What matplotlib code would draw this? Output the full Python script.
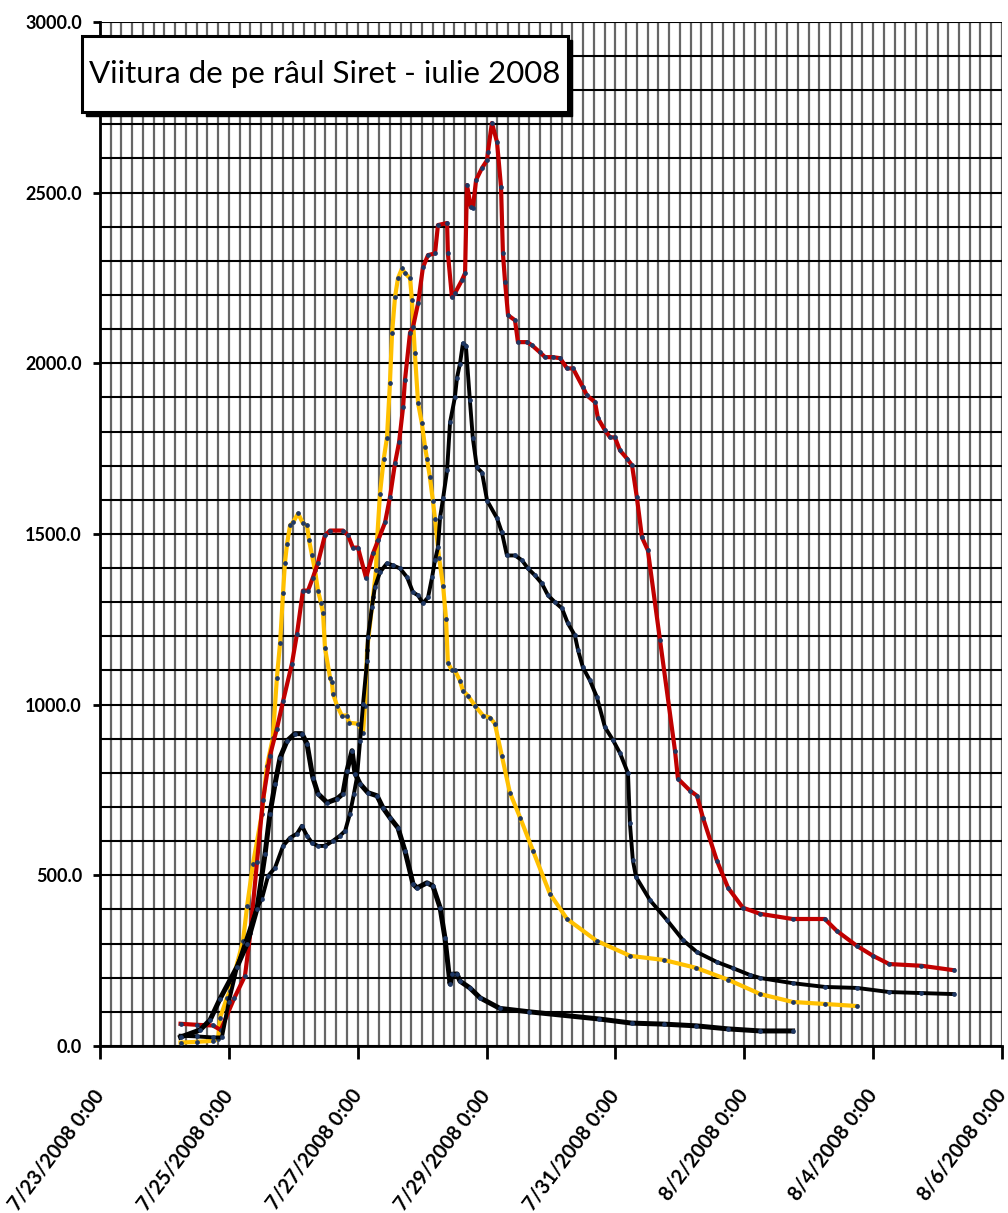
import numpy as np
import pandas as pd
import matplotlib
matplotlib.use("Agg")
import matplotlib.pyplot as plt
import matplotlib.dates as mdates
from matplotlib.patches import Rectangle
from matplotlib.ticker import FixedLocator, FuncFormatter

plt.rcParams['font.family'] = ['Lato', 'DejaVu Sans']

# hours since 7/23/2008 0:00 and discharge values (m3/s)
red_h = [30, 36, 42, 45, 50, 54, 56, 58.5, 60.7, 63.3, 65.9, 68.2, 71.5, 73.4, 75.6, 77.5,
         79.3, 81.2, 83.8, 85.7, 90.5, 92.4, 94.2, 96.1, 99.1, 101.7, 103.6, 106.2, 108,
         109.9, 111.4, 112.9, 113.6, 115.5, 116.6, 118.5, 120.3, 122.2, 124.8, 125.9, 129.3,
         129.6, 131.1, 132.2, 134.8, 136, 136.7, 138.2, 138.9, 140.1, 142.3, 144.2, 144.5,
         146, 147.9, 149.4, 150.1, 150.9, 152, 154.6, 155.7, 159.1, 160.9, 163.9, 165.8,
         168.7, 171.4, 174, 176.2, 179.9, 181.4, 184.4, 185.5, 188.1, 190, 191.8, 193.7,
         196.3, 198.2, 200, 201.9, 204.1, 208.6, 214.2, 215.3, 219.8, 222.4, 224.6, 229.8,
         234, 239.5, 246, 258, 270, 274.5, 282, 288, 294, 306, 318]
red_v = [65, 62, 60, 47, 140, 205, 330, 540, 720, 850, 930, 1010, 1120, 1208, 1334, 1334,
         1372, 1416, 1496, 1510, 1510, 1496, 1460, 1460, 1372, 1443, 1481, 1534, 1607,
         1707, 1768, 1871, 1950, 2090, 2106, 2176, 2281, 2317, 2322, 2405, 2411,
         2322, 2194, 2205, 2243, 2264, 2522, 2457, 2455, 2537, 2572, 2595, 2619,
         2704, 2648, 2516, 2322, 2238, 2141, 2126, 2062, 2062, 2053, 2032, 2018,
         2018, 2015, 1985, 1985, 1930, 1906, 1886, 1839, 1804, 1783, 1783, 1745,
         1721, 1701, 1607, 1490, 1452, 1190, 865, 783, 748, 733, 669, 543,
         463, 405, 387, 372, 372, 337, 293, 264, 240, 235, 222]

yellow_h = [30, 36, 42, 44, 44.7, 47.3, 48.4, 53.3, 54.8, 57, 60.3, 62.2, 64.4, 65.9, 67.1,
            68.2, 68.9, 69.7, 70.8, 71.9, 73.8, 75.6, 77.1, 77.9, 79, 80.1, 81.2, 82.3, 83.1,
            83.8, 85.7, 86.4, 86.8, 88.3, 90.1, 92, 92.8, 96.1, 98, 98.7, 99.5, 101.7, 102.8,
            103.2, 104.3, 105.7, 106.9, 108, 108.8, 109.9, 111, 112.5, 113.6, 115.5, 116.2,
            117.3, 118.5, 119.9, 121.1, 121.8, 122.9, 124, 124.8, 126.3, 127.8, 128.9, 129.6,
            131.1, 132.2, 134.1, 135.2, 137.1, 139.7, 142.7, 145.3, 147.1, 149.7, 152.7,
            156.5, 161.3, 167.6, 174, 185, 197.5, 210, 222, 234, 246, 258, 270, 282]
yellow_v = [10, 12, 15, 20, 82, 141, 161, 308, 410, 534, 680, 821, 903, 1079, 1182,
            1328, 1416, 1472, 1525, 1534, 1560, 1531, 1525, 1481, 1437, 1393, 1334, 1299, 1267,
            1167, 1079, 1065, 1032, 997, 968, 968, 947, 944, 918, 997, 1160, 1314, 1393,
            1480, 1618, 1720, 1782, 1941, 2088, 2194, 2249, 2278, 2264, 2249, 2185,
            2029, 1883, 1824, 1754, 1721, 1666, 1598, 1545, 1431, 1349, 1252, 1123,
            1100, 1100, 1070, 1041, 1026, 997, 968, 962, 944, 850, 742,
            669, 572, 446, 372, 308, 264, 252, 229, 194, 152, 129, 123, 117]

navy_h = [30, 36, 42, 45.4, 48, 51, 54, 58.5, 60.3, 62.6, 65.2, 68.2, 70.8, 73.4, 75.2, 77.1,
          79, 81.2, 83.8, 86.8, 89.4, 91.3, 93.1, 94.6, 95.7, 96.9, 98, 99.5, 99.8, 101.3,
          102.4, 104.3, 106.9, 109.1, 111.8, 114.4, 116.6, 118.5, 120.3, 122.2, 123.7, 124.8,
          125.9, 126.7, 127.8, 129.3, 130.4, 132.2, 133, 134.1, 135.2, 136.3, 137.8, 138.9,
          140.4, 142.3, 144.2, 147.9, 149.7, 151.6, 154.6, 157.2, 159.4, 162, 164.6, 166.9,
          169.5, 172.1, 174.3, 176.9, 178.1, 179.9, 182.5, 185.1, 188.1, 191.1, 193.7, 196.7,
          197.4, 198.5, 199.7, 204.9, 211.2, 217.2, 222.4, 229.8, 235.8, 242.1, 246, 258,
          270, 282, 294, 306, 318]
navy_v = [30, 28, 25, 25, 130, 230, 301, 405, 431, 498, 522, 586, 610, 622, 645, 616,
          595, 586, 586, 601, 616, 630, 680, 739, 786, 894, 1003, 1129, 1197, 1285,
          1344, 1388, 1414, 1408, 1399, 1373, 1329, 1320, 1297, 1314, 1373, 1423,
          1461, 1549, 1604, 1686, 1827, 1900, 1958, 1999, 2058, 2052, 1891, 1780,
          1695, 1680, 1598, 1546, 1505, 1437, 1437, 1423, 1399, 1379, 1355, 1320,
          1300, 1282, 1238, 1203, 1159, 1109, 1071, 1022, 934, 896, 858, 799,
          653, 544, 495, 427, 369, 310, 275, 246, 228, 208, 199, 184,
          173, 170, 158, 155, 152]

black_h = [30, 37.3, 41, 44.7, 51, 54.8, 58.5, 61.5, 63.3, 65.2, 67.1, 69.7, 72.6, 75.2, 77.1,
           79.3, 81.2, 84.6, 88.3, 90.5, 92, 93.9, 95, 96.9, 99.8, 103.2, 105.4, 108, 111,
           113.6, 116.6, 118.1, 121.8, 124, 126.7, 128.5, 130.4, 131.1, 133, 134.1, 137.8,
           141.6, 149, 160, 186, 198, 210, 222, 234, 246, 258]
black_v = [26, 47, 76, 138, 231, 299, 402, 563, 680, 768, 845, 894, 915, 915, 886,
           786, 739, 713, 724, 739, 806, 865, 798, 768, 742, 733, 698, 669, 639,
           572, 475, 463, 478, 469, 405, 317, 182, 210, 211, 190, 170,
           141, 110, 100, 79, 67, 64, 59, 50, 44, 44]

title = "Viitura de pe râul Siret - iulie 2008"
start = pd.Timestamp("2008-07-23")
end = pd.Timestamp("2008-08-06")


def to_dates(hours):
    return start + pd.to_timedelta(np.array(hours), unit="h")


fig = plt.figure(figsize=(10.08, 12.13), dpi=100)
ax = fig.add_axes([0.0992, 0.1377, 0.8948, 0.8442])

mk = dict(marker='o', markersize=2.4, markerfacecolor='#1f3864', markeredgecolor='#1f3864')
ax.plot(to_dates(yellow_h), yellow_v, color='#ffc000', lw=3.0, **mk, zorder=3)
ax.plot(to_dates(red_h), red_v, color='#c00000', lw=3.0, **mk, zorder=4)
ax.plot(to_dates(navy_h), navy_v, color='#000000', lw=2.8, **mk, zorder=5)
ax.plot(to_dates(black_h), black_v, color='#000000', lw=3.6, **mk, zorder=5)

ax.set_xlim(mdates.date2num(start), mdates.date2num(end))
ax.set_ylim(0, 3000)

# ticks and grid
major_x = mdates.date2num(pd.date_range(start, end, freq="2D"))
minor_x = mdates.date2num(pd.date_range(start, end, freq="4h"))
ax.xaxis.set_major_locator(FixedLocator(major_x))
ax.xaxis.set_minor_locator(FixedLocator(minor_x))
ax.xaxis.set_major_formatter(FuncFormatter(
    lambda v, p: "{}/{}/{} 0:00".format(mdates.num2date(v).month, mdates.num2date(v).day,
                                         mdates.num2date(v).year)))
ax.yaxis.set_major_locator(FixedLocator(np.arange(0, 3001, 500)))
ax.yaxis.set_minor_locator(FixedLocator(np.arange(0, 3001, 100)))
ax.yaxis.set_major_formatter(FuncFormatter(lambda v, p: "%.1f" % v))

ax.grid(which='both', axis='x', color='#666666', lw=1.6)
ax.grid(which='both', axis='y', color='#000000', lw=1.5)
ax.set_axisbelow(True)

ax.tick_params(axis='x', which='major', length=9, width=2, direction='out', pad=24)
ax.tick_params(axis='y', which='major', length=5, width=2, direction='out', pad=8)
ax.tick_params(which='minor', length=0)
for lab in ax.get_yticklabels():
    lab.set_fontweight('bold')
    lab.set_fontsize(13)
for lab in ax.get_xticklabels():
    lab.set_fontweight('bold')
    lab.set_fontsize(14.5)
    lab.set_rotation(53)
    lab.set_ha('right')
    lab.set_va('center')
    lab.set_rotation_mode('anchor')

for s in ['top', 'right']:
    ax.spines[s].set_visible(False)
for s in ['left', 'bottom']:
    ax.spines[s].set_linewidth(2)
    ax.spines[s].set_color('black')

# title box with shadow
bx, by, bw, bh = 0.0813, 0.9077, 0.482, 0.0627
fig.patches.append(Rectangle((bx + 0.004, by - 0.003), bw, bh, transform=fig.transFigure,
                             facecolor='black', edgecolor='black', zorder=6))
fig.patches.append(Rectangle((bx, by), bw, bh, transform=fig.transFigure,
                             facecolor='white', edgecolor='black', lw=2.2, zorder=7))
fig.text(bx + bw / 2, by + bh / 2, title, ha='center', va='center', fontsize=22.5,
         zorder=8)

plt.savefig('out.png', dpi=100)
